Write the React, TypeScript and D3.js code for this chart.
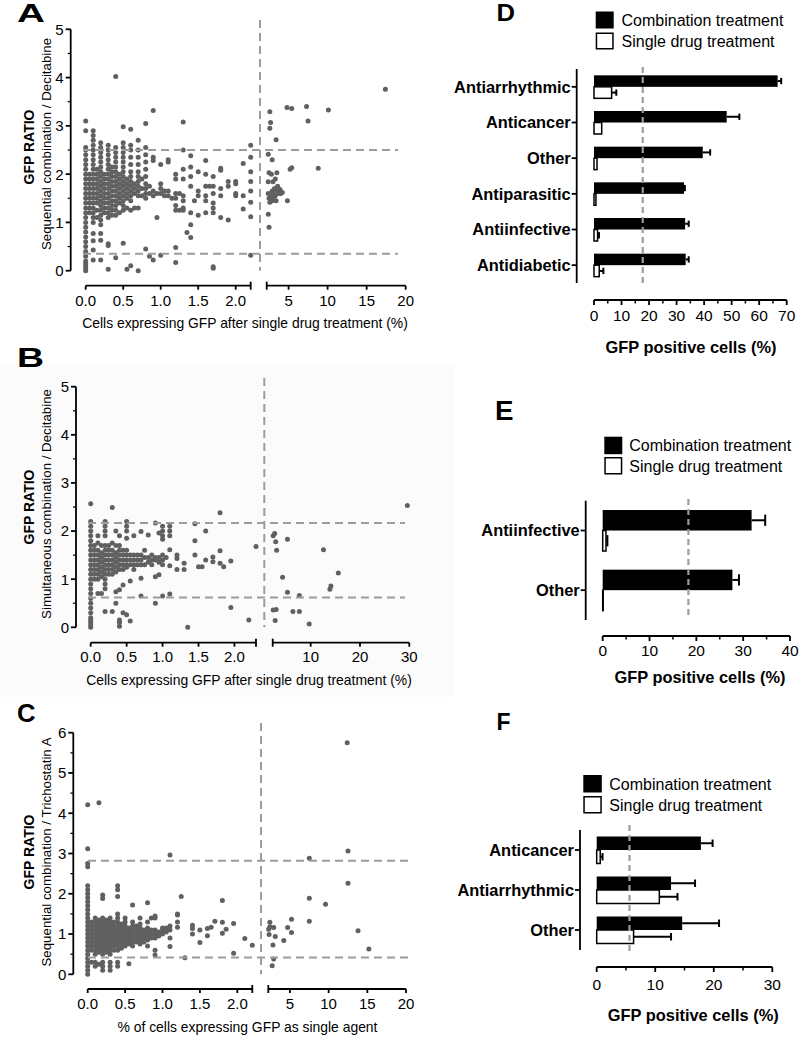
import React from 'react';
import * as d3 from 'd3';

// ---------------- DATA ----------------
// Panel A: Sequential combination / Decitabine
const A_LEFT: [number, number[]][] = [
  [0, [0, 0.05, 0.1, 0.15, 0.2, 0.3, 0.4, 0.5, 0.6, 0.7, 0.8, 0.9, 1.0, 1.1, 1.2, 1.3, 1.4, 1.5, 1.6, 1.7, 1.8, 1.9, 2.0, 2.1, 2.2, 2.3, 2.4, 2.5, 2.55, 2.9, 3.1]],
  [0.05, [1.2, 1.3, 1.4, 1.5, 1.6, 1.7, 1.8, 1.9, 2.0]],
  [0.1, [0.22, 0.43, 0.62, 0.77, 1.0, 1.1, 1.2, 1.3, 1.4, 1.5, 1.6, 1.7, 1.8, 1.9, 2.0, 2.1, 2.2, 2.3, 2.4, 2.5, 2.6, 2.7, 2.8, 2.9]],
  [0.15, [1.1, 1.25, 1.4, 1.5, 1.6, 1.7, 1.8, 1.9, 2.0, 2.1]],
  [0.2, [0.22, 0.63, 0.77, 0.95, 1.05, 1.15, 1.25, 1.35, 1.45, 1.55, 1.65, 1.75, 1.85, 1.95, 2.05, 2.15, 2.25, 2.35, 2.45, 2.55, 2.65]],
  [0.25, [1.2, 1.3, 1.4, 1.5, 1.6, 1.7, 1.8, 1.9, 2.0]],
  [0.3, [0.03, 0.52, 0.56, 1.1, 1.2, 1.3, 1.4, 1.5, 1.6, 1.7, 1.8, 1.9, 2.0, 2.1, 2.2, 2.3, 2.4, 2.5, 2.6]],
  [0.35, [1.15, 1.25, 1.35, 1.45, 1.55, 1.65, 1.75, 1.85, 1.95, 2.05, 2.15]],
  [0.4, [0.27, 1.15, 1.25, 1.35, 1.45, 1.55, 1.65, 1.75, 1.85, 1.95, 2.05, 2.15, 2.25, 2.35, 2.45, 2.55, 4.02]],
  [0.45, [1.2, 1.4, 1.5, 1.6, 1.7, 1.8, 1.9, 2.0]],
  [0.5, [0.57, 1.25, 1.35, 1.45, 1.55, 1.65, 1.75, 1.85, 1.95, 2.05, 2.15, 2.25, 2.35, 2.45, 2.55, 2.65, 2.98]],
  [0.55, [0.03, 1.3, 1.5, 1.6, 1.7, 1.8, 1.9]],
  [0.6, [0.1, 1.25, 1.45, 1.55, 1.65, 1.75, 1.85, 1.95, 2.05, 2.2, 2.35, 2.5, 2.6, 2.93]],
  [0.65, [1.3, 1.6, 1.7, 1.8]],
  [0.7, [0.0, 1.3, 1.55, 1.65, 1.75, 1.85, 1.95, 2.05, 2.2, 2.35, 2.5, 2.7]],
  [0.75, [1.55, 1.7, 1.9]],
  [0.8, [0.45, 1.5, 1.6, 1.7, 1.8, 1.95, 2.1, 2.25, 2.4, 2.55, 3.05]],
  [0.85, [0.3, 1.6, 1.75]],
  [0.9, [0.22, 1.55, 1.65, 2.28, 2.35, 3.32]],
  [0.95, [1.1, 1.6]],
  [1.0, [0.32, 1.6, 1.7, 1.8, 2.2]],
  [1.05, [1.55, 1.65]],
  [1.1, [1.55, 1.65, 2.25, 2.3]],
  [1.15, [1.5]],
  [1.2, [0.17, 0.48, 1.25, 1.35, 1.5, 1.6, 1.9, 2.0]],
  [1.25, [1.25, 1.6]],
  [1.3, [1.25, 1.3, 1.45, 1.55, 1.9, 2.1, 2.5, 3.08]],
  [1.35, [0.79]],
  [1.4, [0.69, 0.95, 1.2, 1.75, 1.95, 2.15, 2.38]],
  [1.45, [1.45]],
  [1.5, [1.15, 1.55, 1.65, 2.05]],
  [1.6, [1.2, 1.45, 1.55, 1.75, 2.0, 2.28]],
  [1.65, [1.75]],
  [1.7, [0.05, 0.08, 1.2, 1.3, 1.4, 1.6, 1.75, 1.95]],
  [1.8, [1.1, 1.55, 1.7, 2.08, 2.12]],
  [1.9, [1.05, 1.75, 1.85]],
  [2.0, [1.55, 1.6, 1.8, 1.85]],
  [2.1, [1.28, 1.55, 2.22]],
  [2.2, [0.32, 1.12, 1.42, 1.65, 1.85, 2.05, 2.35, 2.6]],
];
const A_RIGHT: [number, number][] = [
  [2.6, 3.29], [2.7, 3.07], [2.6, 2.95], [3.4, 2.71], [2.4, 2.41], [2.9, 2.3], [2.5, 2.03], [2.8, 2.0],
  [3.5, 2.03], [2.4, 1.84], [3.0, 1.84], [3.3, 1.9], [2.4, 1.6], [2.5, 1.5], [2.6, 1.42], [2.7, 1.55],
  [2.9, 1.65], [3.0, 1.5], [3.1, 1.6], [3.2, 1.7], [3.3, 1.55], [3.5, 1.65], [3.6, 1.75], [3.8, 1.6],
  [3.9, 1.68], [4.0, 1.6], [4.2, 1.62], [3.4, 1.45], [2.9, 1.45], [2.4, 1.17], [2.5, 0.9], [4.8, 3.38],
  [5.4, 3.36], [7.3, 3.4], [7.5, 3.1], [8.8, 2.12], [10.1, 3.33], [17.4, 3.76], [5.2, 2.1], [5.4, 2.13],
  [4.85, 1.45],
];

// Panel B: Simultaneous combination / Decitabine
const B_LEFT: [number, number[]][] = [
  [0, [0, 0.05, 0.1, 0.15, 0.2, 0.3, 0.4, 0.5, 0.6, 0.7, 0.8, 0.9, 1.0, 1.1, 1.2, 1.3, 1.4, 1.5, 1.6, 1.7, 1.8, 1.9, 2.0, 2.1, 2.2, 2.57]],
  [0.05, [1.0, 1.1, 1.2, 1.3, 1.4, 1.5, 1.6, 1.7]],
  [0.1, [0.7, 1.0, 1.1, 1.2, 1.3, 1.4, 1.5, 1.6, 1.75, 1.9]],
  [0.15, [0.7, 1.05, 1.15, 1.25, 1.35, 1.45, 1.55, 1.7]],
  [0.2, [0.33, 0.8, 0.9, 1.0, 1.1, 1.2, 1.3, 1.4, 1.5, 1.6, 1.7, 1.9, 2.0, 2.1, 2.2]],
  [0.25, [1.1, 1.2, 1.3, 1.4, 1.5, 1.6, 1.7]],
  [0.3, [0.33, 1.1, 1.2, 1.3, 1.4, 1.5, 1.6, 1.75, 2.49]],
  [0.35, [0.5, 0.74, 1.15, 1.25, 1.35, 1.45, 1.55, 1.7, 2.0]],
  [0.4, [0.02, 0.1, 0.15, 0.78, 1.2, 1.3, 1.4, 1.5, 1.6, 1.7, 1.9]],
  [0.45, [0.3, 0.88, 1.2, 1.3, 1.4, 1.5, 1.6]],
  [0.5, [0.26, 1.25, 1.3, 1.4, 1.5, 1.6, 1.85, 2.0, 2.1, 2.2]],
  [0.55, [0.13, 0.96, 1.3, 1.4, 1.5]],
  [0.6, [1.2, 1.3, 1.4, 1.5, 1.9]],
  [0.65, [1.3, 1.4, 1.5]],
  [0.7, [0.65, 1.02, 1.3, 1.4, 1.5, 1.99]],
  [0.75, [1.3, 1.45, 1.6]],
  [0.8, [1.35, 1.45, 1.92]],
  [0.85, [1.3, 1.4, 1.5]],
  [0.9, [0.5, 1.05, 1.4, 1.45, 2.17]],
  [0.95, [1.09, 1.35, 1.45, 1.96]],
  [1.0, [0.65, 1.3, 1.4, 1.5, 1.83, 1.9, 2.0, 2.1]],
  [1.05, [1.45]],
  [1.1, [0.69, 1.28, 1.61, 1.9, 2.0, 2.1]],
  [1.2, [1.2, 1.43, 1.5]],
  [1.3, [1.2, 1.33]],
  [1.35, [0.0]],
  [1.45, [1.5, 1.8, 2.15]],
  [1.5, [1.26]],
  [1.55, [1.26]],
  [1.6, [1.4, 2.0]],
  [1.7, [1.36, 1.46]],
  [1.8, [1.33, 1.59, 2.38]],
  [1.85, [1.26]],
  [1.95, [0.41, 1.38]],
  [2.2, [0.15]],
  [2.3, [1.68]],
];
const B_RIGHT: [number, number][] = [
  [29.6, 2.53], [2.4, 1.9], [2.7, 1.95], [2.9, 1.78], [3.1, 1.6], [5.3, 1.83], [4.3, 1.04], [5.3, 0.73],
  [7.7, 0.66], [6.4, 0.33], [7.7, 0.33], [2.4, 0.36], [3.0, 0.37], [2.8, 0.14], [9.7, 0.07], [12.6, 1.61],
  [13.9, 0.79], [14.1, 0.86], [15.6, 1.13],
];

// Panel C: Sequential combination / Trichostatin A
const C_LEFT: [number, number[]][] = [
  [0, [0, 0.1, 0.2, 0.3, 0.4, 0.5, 0.6, 0.7, 0.8, 0.9, 1.0, 1.1, 1.2, 1.3, 1.4, 1.5, 1.6, 1.7, 1.8, 1.9, 2.0, 2.1, 2.2, 2.67, 2.75, 3.12, 4.21]],
  [0.05, [0.3, 0.6, 0.7, 0.8, 0.9, 1.0, 1.1, 1.2, 1.3]],
  [0.1, [0.2, 0.3, 0.5, 0.6, 0.7, 0.8, 0.9, 1.0, 1.1, 1.2, 1.3, 1.4]],
  [0.15, [0.25, 0.55, 0.65, 0.75, 0.85, 0.95, 1.05, 1.15, 1.25, 1.35, 4.26]],
  [0.2, [0.1, 0.2, 0.3, 0.5, 0.6, 0.7, 0.8, 0.9, 1.0, 1.1, 1.2, 1.3, 1.4, 1.88, 1.97]],
  [0.25, [0.55, 0.65, 0.75, 0.85, 0.95, 1.05, 1.15, 1.25, 1.35]],
  [0.3, [0.1, 0.2, 0.3, 0.5, 0.6, 0.7, 0.8, 0.9, 1.0, 1.1, 1.2, 1.3, 1.4]],
  [0.35, [0.6, 0.7, 0.8, 0.9, 1.0, 1.1, 1.2, 1.3]],
  [0.4, [0.2, 0.3, 0.6, 0.7, 0.8, 0.9, 1.0, 1.1, 1.2, 1.3, 1.4, 1.5, 1.93, 2.1, 2.2]],
  [0.45, [0.65, 0.75, 0.85, 0.95, 1.05, 1.15, 1.25]],
  [0.5, [0.7, 0.8, 0.9, 1.0, 1.1, 1.2, 1.3, 1.4]],
  [0.55, [0.26, 0.75, 0.85, 0.95, 1.05, 1.15]],
  [0.6, [0.7, 0.8, 0.9, 1.0, 1.1, 1.2, 1.3, 1.72]],
  [0.65, [0.8, 0.9, 1.0, 1.1, 1.2]],
  [0.7, [0.75, 0.85, 0.95, 1.05, 1.15, 1.25, 1.4]],
  [0.75, [0.8, 0.9, 1.0, 1.1]],
  [0.8, [0.7, 0.85, 0.95, 1.05, 1.15, 1.3, 1.78]],
  [0.85, [0.9, 1.0, 1.1, 1.4]],
  [0.9, [0.48, 0.6, 0.9, 1.0, 1.1, 1.4, 1.45]],
  [0.95, [0.95, 1.05]],
  [1.0, [1.0, 1.1, 1.15]],
  [1.05, [1.05, 1.15]],
  [1.1, [0.69, 0.9, 1.1, 1.2, 2.96]],
  [1.2, [1.17, 1.3, 1.47, 1.5]],
  [1.25, [1.93]],
  [1.3, [0.41]],
  [1.4, [1.0, 1.14, 1.22]],
  [1.5, [0.79, 1.1]],
  [1.6, [0.96, 1.14]],
  [1.65, [1.17]],
  [1.7, [1.32]],
  [1.8, [1.02, 1.29, 1.83]],
  [1.85, [1.12]],
  [1.95, [0.52, 1.26]],
  [2.1, [0.89]],
  [2.2, [0.72]],
];
const C_RIGHT: [number, number][] = [
  [12.4, 5.75], [12.5, 3.06], [12.5, 2.26], [7.5, 2.88], [7.5, 1.89], [7.5, 1.32], [9.6, 1.74], [13.8, 1.08],
  [15.2, 0.63], [5.2, 1.37], [5.2, 1.04], [4.7, 1.16], [4.2, 0.84], [2.4, 1.29], [2.4, 1.18], [2.3, 0.99],
  [2.9, 1.16], [2.8, 0.73], [3.1, 0.94], [2.9, 0.38], [2.7, 0.21], [2.25, 1.12],
];

// Panel D
const D_CATS = ['Antiarrhythmic', 'Anticancer', 'Other', 'Antiparasitic', 'Antiinfective', 'Antidiabetic'];
const D_COMBO = [66.7, 48.2, 39.5, 32.7, 33.1, 33.3];
const D_COMBO_ERR = [1.3, 4.6, 2.7, 0.3, 1.3, 1.1];
const D_SINGLE = [6.4, 2.8, 1.1, 0.7, 1.3, 1.9];
const D_SINGLE_ERR = [1.7, 0, 0, 0, 0.5, 1.5];
const D_THRESHOLD = 17.7;
const D_TICKS = [0, 10, 20, 30, 40, 50, 60, 70];

// Panel E
const E_CATS = ['Antiinfective', 'Other'];
const E_COMBO = [31.8, 27.7];
const E_COMBO_ERR = [2.9, 1.4];
const E_SINGLE = [0.7, 0.1];
const E_SINGLE_ERR = [0.3, 0];
const E_THRESHOLD = 18.3;
const E_TICKS = [0, 10, 20, 30, 40];

// Panel F
const F_CATS = ['Anticancer', 'Antiarrhythmic', 'Other'];
const F_COMBO = [17.8, 12.7, 14.6];
const F_COMBO_ERR = [2.0, 4.1, 6.3];
const F_SINGLE = [0.6, 10.7, 6.3];
const F_SINGLE_ERR = [0.4, 3.1, 6.4];
const F_THRESHOLD = 5.6;
const F_TICKS = [0, 10, 20, 30];

const LEGEND = ['Combination treatment', 'Single drug treatment'];

// ---------------- STYLE ----------------
const FONT = "'Liberation Sans', Arial, Helvetica, sans-serif";
const DOT = '#606060';
const DASH = '#9c9c9c';

interface Letter { t: string; x: number; y: number; size: number; w: number }

interface ScatterCfg {
  letter: Letter;
  axisX: number; yTop: number; yBottom: number; yMax: number;
  xAxisY: number; tickLabelY: number;
  leftDomain: [number, number]; leftRange: [number, number]; leftTicks: number[];
  rightDomain: [number, number]; rightRange: [number, number]; rightTicks: number[];
  hLines: number[]; hFrom: number; hTo: number;
  vX: number; vTop: number;
  title1: string; title2: string; t1x: number; t2x: number; tcy: number; t2cy: number;
  xTitle: string; xTitleX: number; xTitleY: number;
  left: [number, number[]][]; right: [number, number][];
}

function PanelLetter({ l }: { l: Letter }) {
  return (
    <text x={l.x} y={l.y} fontSize={l.size} fontWeight="bold" textLength={l.w} lengthAdjust="spacingAndGlyphs" fontFamily={FONT}>
      {l.t}
    </text>
  );
}

function ScatterPanel({ c }: { c: ScatterCfg }) {
  const y = d3.scaleLinear().domain([0, c.yMax]).range([c.yBottom, c.yTop]);
  const xl = d3.scaleLinear().domain(c.leftDomain).range(c.leftRange);
  const xr = d3.scaleLinear().domain(c.rightDomain).range(c.rightRange);
  const pts: [number, number][] = [];
  c.left.forEach(([x, ys]) => ys.forEach((v) => pts.push([xl(x), y(v)])));
  c.right.forEach(([x, v]) => pts.push([xr(x), y(v)]));
  const majors = y.ticks(c.yMax);
  const minors = majors.slice(0, -1).map((t) => t + 0.5);
  const f1 = d3.format('.1f');
  const ax = { stroke: '#000', strokeWidth: 1.8 };
  return (
    <g fontFamily={FONT}>
      <PanelLetter l={c.letter} />
      {pts.map(([px, py], i) => (
        <circle key={i} cx={px} cy={py} r={2.5} fill={DOT} />
      ))}
      {c.hLines.map((v) => (
        <line key={v} x1={c.hFrom} x2={c.hTo} y1={y(v)} y2={y(v)} stroke={DASH} strokeWidth={2} strokeDasharray="8,5" />
      ))}
      <line x1={c.vX} x2={c.vX} y1={c.vTop} y2={c.yBottom} stroke={DASH} strokeWidth={2} strokeDasharray="8,5" />
      {/* y axis */}
      <line x1={c.axisX} x2={c.axisX} y1={c.yTop} y2={c.yBottom} {...ax} />
      {majors.map((t) => (
        <g key={t}>
          <line x1={c.axisX - 5} x2={c.axisX} y1={y(t)} y2={y(t)} {...ax} />
          <text x={c.axisX - 7} y={y(t)} dy="0.36em" textAnchor="end" fontSize={15}>{t}</text>
        </g>
      ))}
      {minors.map((t) => (
        <line key={t} x1={c.axisX - 3} x2={c.axisX} y1={y(t)} y2={y(t)} stroke="#000" strokeWidth={1.2} />
      ))}
      {/* broken x axis */}
      <line x1={c.leftRange[0]} x2={c.leftRange[1]} y1={c.xAxisY} y2={c.xAxisY} {...ax} />
      <line x1={c.leftRange[1]} x2={c.leftRange[1]} y1={c.xAxisY - 4} y2={c.xAxisY + 4} {...ax} />
      <line x1={c.rightRange[0]} x2={c.rightRange[1]} y1={c.xAxisY} y2={c.xAxisY} {...ax} />
      <line x1={c.rightRange[0]} x2={c.rightRange[0]} y1={c.xAxisY - 4} y2={c.xAxisY + 4} {...ax} />
      {c.leftTicks.map((t) => (
        <g key={'l' + t}>
          <line x1={xl(t)} x2={xl(t)} y1={c.xAxisY} y2={c.xAxisY + 4} {...ax} />
          <text x={xl(t)} y={c.tickLabelY} textAnchor="middle" fontSize={15}>{f1(t)}</text>
        </g>
      ))}
      {c.rightTicks.map((t) => (
        <g key={'r' + t}>
          <line x1={xr(t)} x2={xr(t)} y1={c.xAxisY} y2={c.xAxisY + 4} {...ax} />
          <text x={xr(t)} y={c.tickLabelY} textAnchor="middle" fontSize={15}>{t}</text>
        </g>
      ))}
      <text x={c.xTitleX} y={c.xTitleY} textAnchor="middle" fontSize={13.9}>{c.xTitle}</text>
      <text transform={`translate(${c.t1x},${c.tcy}) rotate(-90)`} textAnchor="middle" dy="0.36em" fontSize={14} fontWeight="bold">{c.title1}</text>
      <text transform={`translate(${c.t2x},${c.t2cy}) rotate(-90)`} textAnchor="middle" dy="0.36em" fontSize={13.3}>{c.title2}</text>
    </g>
  );
}

interface BarCfg {
  letter: Letter;
  legX: number; legY1: number; legY2: number; legW: number; legH: number; legTextX: number;
  cats: string[]; combo: number[]; comboErr: number[]; single: number[]; singleErr: number[];
  threshold: number; ticks: number[];
  x0: number; x1: number; axisY: number; tickLabelY: number;
  yAxisX: number; yTop: number; yBottom: number; barH: number;
  dashTop: number; dashBottom: number;
  titleX: number; titleY: number;
}

function BarPanel({ c }: { c: BarCfg }) {
  const xMax = c.ticks[c.ticks.length - 1];
  const x = d3.scaleLinear().domain([0, xMax]).range([c.x0, c.x1]);
  const band = d3.scaleBand<string>().domain(c.cats).range([c.yTop, c.yBottom]);
  const ax = { stroke: '#000', strokeWidth: 1.8 };
  const minors = c.ticks.slice(0, -1).map((t) => t + 5);
  const cap = c.barH * 0.55;
  const errBar = (v: number, e: number, cy: number, key: string) =>
    e > 0 ? (
      <g key={key}>
        <line x1={x(v)} x2={x(v + e)} y1={cy} y2={cy} stroke="#000" strokeWidth={2} />
        <line x1={x(v + e)} x2={x(v + e)} y1={cy - cap / 2} y2={cy + cap / 2} stroke="#000" strokeWidth={2} />
      </g>
    ) : null;
  return (
    <g fontFamily={FONT}>
      <PanelLetter l={c.letter} />
      {/* legend */}
      <rect x={c.legX} y={c.legY1} width={c.legW} height={c.legH} fill="#000" />
      <rect x={c.legX + 0.75} y={c.legY2 + 0.75} width={c.legW - 1.5} height={c.legH - 1.5} fill="#fff" stroke="#000" strokeWidth={1.5} />
      <text x={c.legTextX} y={c.legY1 + c.legH / 2} dy="0.36em" fontSize={16}>{LEGEND[0]}</text>
      <text x={c.legTextX} y={c.legY2 + c.legH / 2} dy="0.36em" fontSize={16}>{LEGEND[1]}</text>
      {/* bars */}
      {c.cats.map((cat, i) => {
        const cy = (band(cat) as number) + band.bandwidth() / 2;
        return (
          <g key={cat}>
            <rect x={x(0)} y={cy - c.barH} width={x(c.combo[i]) - x(0)} height={c.barH} fill="#000" />
            {errBar(c.combo[i], c.comboErr[i], cy - c.barH / 2, 'c' + i)}
            <rect x={x(0)} y={cy} width={Math.max(x(c.single[i]) - x(0), 0.5)} height={c.barH} fill="#fff" stroke="#000" strokeWidth={1.5} />
            {errBar(c.single[i], c.singleErr[i], cy + c.barH / 2, 's' + i)}
            <line x1={c.yAxisX - 5} x2={c.yAxisX} y1={cy} y2={cy} {...ax} />
            <text x={c.yAxisX - 6} y={cy} dy="0.36em" textAnchor="end" fontSize={16.4} fontWeight="bold">{cat}</text>
          </g>
        );
      })}
      <line x1={x(c.threshold)} x2={x(c.threshold)} y1={c.dashTop} y2={c.dashBottom} stroke={DASH} strokeWidth={2.2} strokeDasharray="6,4" />
      <line x1={c.yAxisX} x2={c.yAxisX} y1={c.yTop} y2={c.yBottom} {...ax} />
      {/* x axis */}
      <line x1={c.x0} x2={c.x1} y1={c.axisY} y2={c.axisY} {...ax} />
      {c.ticks.map((t) => (
        <g key={t}>
          <line x1={x(t)} x2={x(t)} y1={c.axisY} y2={c.axisY + 5} {...ax} />
          <text x={x(t)} y={c.tickLabelY} textAnchor="middle" fontSize={15.5}>{t}</text>
        </g>
      ))}
      {minors.map((t) => (
        <line key={t} x1={x(t)} x2={x(t)} y1={c.axisY} y2={c.axisY + 3.5} stroke="#000" strokeWidth={1.5} />
      ))}
      <text x={c.titleX} y={c.titleY} textAnchor="middle" fontSize={16.4} fontWeight="bold">GFP positive cells (%)</text>
    </g>
  );
}

const X_TITLE = 'Cells expressing GFP after single drug treatment (%)';

const SCATTERS: ScatterCfg[] = [
  {
    letter: { t: 'A', x: 17, y: 22, size: 25, w: 28 },
    axisX: 70.7, yTop: 29.3, yBottom: 270.7, yMax: 5,
    xAxisY: 285.7, tickLabelY: 305.5,
    leftDomain: [0, 2.2], leftRange: [85.7, 250.7], leftTicks: [0, 0.5, 1, 1.5, 2],
    rightDomain: [2.2, 20], rightRange: [266.7, 405.7], rightTicks: [5, 10, 15, 20],
    hLines: [2.5, 0.35], hFrom: 83, hTo: 398,
    vX: 260, vTop: 20,
    title1: 'GFP RATIO', title2: 'Sequential combination / Decitabine', t1x: 29, t2x: 46.5, tcy: 147, t2cy: 144,
    xTitle: X_TITLE, xTitleX: 245, xTitleY: 328,
    left: A_LEFT, right: A_RIGHT,
  },
  {
    letter: { t: 'B', x: 17, y: 367, size: 27, w: 27 },
    axisX: 76, yTop: 386.7, yBottom: 627.3, yMax: 5,
    xAxisY: 642.7, tickLabelY: 661.5,
    leftDomain: [0, 2.3], leftRange: [90.7, 256], leftTicks: [0, 0.5, 1, 1.5, 2],
    rightDomain: [2.3, 30], rightRange: [272.7, 409.3], rightTicks: [10, 20, 30],
    hLines: [2.17, 0.62], hFrom: 88, hTo: 405,
    vX: 264.3, vTop: 378,
    title1: 'GFP RATIO', title2: 'Simultaneous combination / Decitabine', t1x: 29, t2x: 46.5, tcy: 507, t2cy: 504,
    xTitle: X_TITLE, xTitleX: 249, xTitleY: 685,
    left: B_LEFT, right: B_RIGHT,
  },
  {
    letter: { t: 'C', x: 17, y: 722, size: 25, w: 18.5 },
    axisX: 73.3, yTop: 732.7, yBottom: 974.3, yMax: 6,
    xAxisY: 989, tickLabelY: 1008.5,
    leftDomain: [0, 2.2], leftRange: [87.7, 252.3], leftTicks: [0, 0.5, 1, 1.5, 2],
    rightDomain: [2.2, 20], rightRange: [268.3, 406], rightTicks: [5, 10, 15, 20],
    hLines: [2.82, 0.42], hFrom: 88, hTo: 408,
    vX: 261, vTop: 723,
    title1: 'GFP RATIO', title2: 'Sequential combination / Trichostatin A', t1x: 29, t2x: 46.5, tcy: 852, t2cy: 852,
    xTitle: '% of cells expressing GFP as single agent', xTitleX: 247.5, xTitleY: 1031.5,
    left: C_LEFT, right: C_RIGHT,
  },
];

const BARS: BarCfg[] = [
  {
    letter: { t: 'D', x: 496.5, y: 20.5, size: 24, w: 18.5 },
    legX: 595.7, legY1: 11.5, legY2: 32.5, legW: 18, legH: 17, legTextX: 621.5,
    cats: D_CATS, combo: D_COMBO, comboErr: D_COMBO_ERR, single: D_SINGLE, singleErr: D_SINGLE_ERR,
    threshold: D_THRESHOLD, ticks: D_TICKS,
    x0: 594, x1: 786.7, axisY: 300, tickLabelY: 320.5,
    yAxisX: 576.7, yTop: 69, yBottom: 283, barH: 11.5,
    dashTop: 67, dashBottom: 285,
    titleX: 691, titleY: 352.5,
  },
  {
    letter: { t: 'E', x: 495, y: 420, size: 27, w: 18.5 },
    legX: 604.3, legY1: 436.7, legY2: 457, legW: 18, legH: 17.5, legTextX: 629.3,
    cats: E_CATS, combo: E_COMBO, comboErr: E_COMBO_ERR, single: E_SINGLE, singleErr: E_SINGLE_ERR,
    threshold: E_THRESHOLD, ticks: E_TICKS,
    x0: 602.7, x1: 790, axisY: 636, tickLabelY: 655.5,
    yAxisX: 585.7, yTop: 500.7, yBottom: 620, barH: 20.5,
    dashTop: 499, dashBottom: 616,
    titleX: 700, titleY: 682.5,
  },
  {
    letter: { t: 'F', x: 496.5, y: 730, size: 23.5, w: 14 },
    legX: 583.3, legY1: 775, legY2: 796, legW: 18.5, legH: 17.5, legTextX: 609.3,
    cats: F_CATS, combo: F_COMBO, comboErr: F_COMBO_ERR, single: F_SINGLE, singleErr: F_SINGLE_ERR,
    threshold: F_THRESHOLD, ticks: F_TICKS,
    x0: 596.7, x1: 772.3, axisY: 967, tickLabelY: 989.5,
    yAxisX: 580, yTop: 830, yBottom: 950, barH: 13.5,
    dashTop: 825, dashBottom: 955,
    titleX: 693.3, titleY: 1020.5,
  },
];

export default function App() {
  return (
    <svg
      width={810}
      height={1050}
      viewBox="0 0 810 1050"
      style={{ position: 'absolute', left: 0, top: 0, background: '#fff' }}
    >
      <rect x={0} y={0} width={810} height={1050} fill="#fff" />
      <rect x={0} y={365} width={453} height={332} fill="#fbfbfb" />
      {SCATTERS.map((c) => <ScatterPanel key={c.letter.t} c={c} />)}
      {BARS.map((c) => <BarPanel key={c.letter.t} c={c} />)}
    </svg>
  );
}
